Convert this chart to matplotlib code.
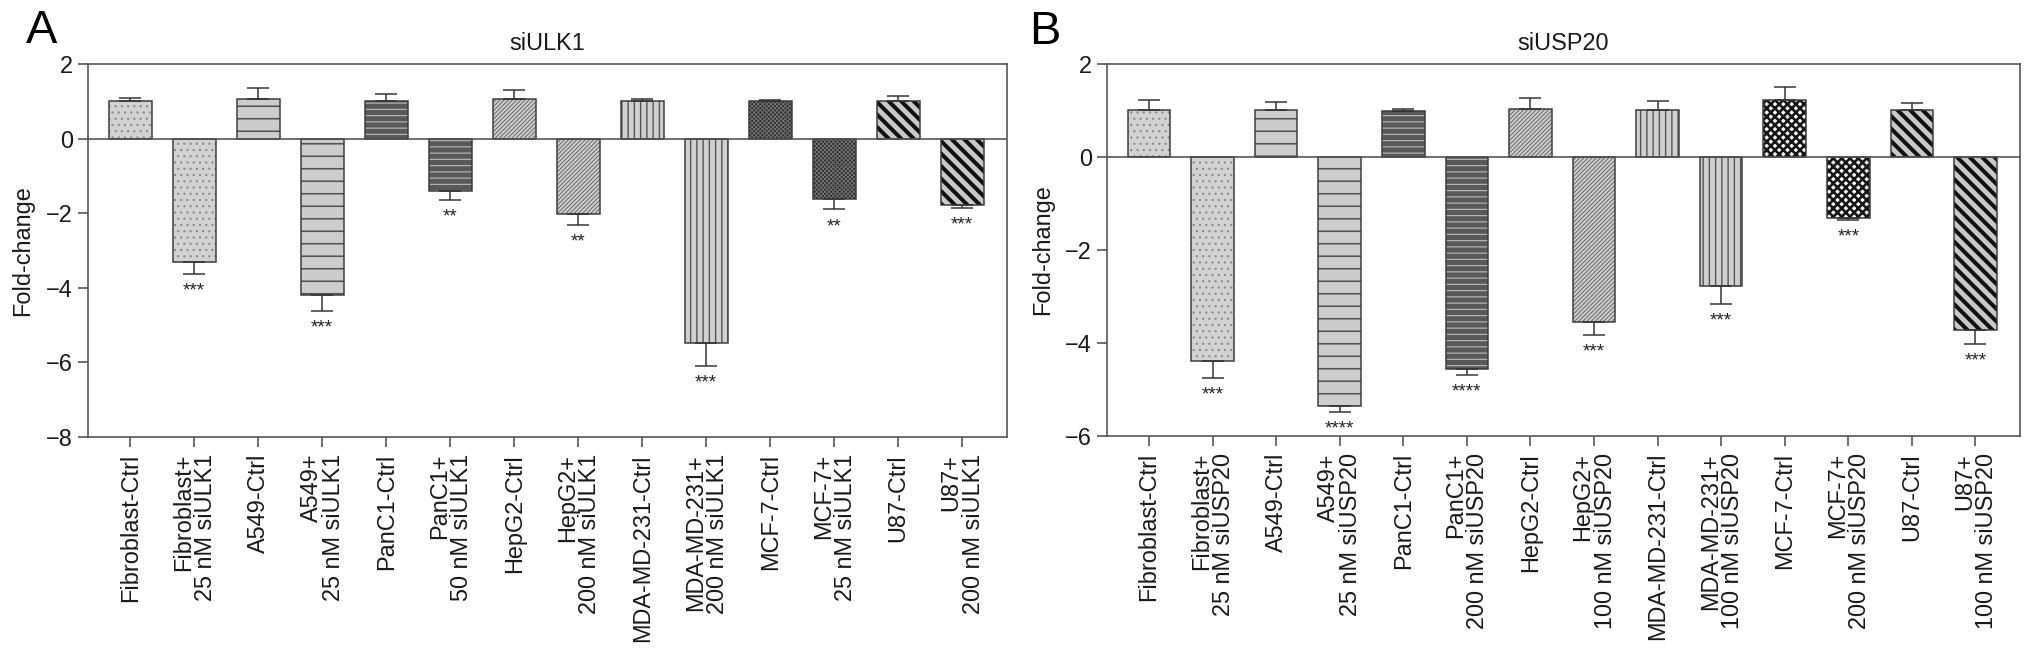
import numpy as np
import matplotlib
matplotlib.use('Agg')
import matplotlib.pyplot as plt

DPI = 75
W, H = 2032, 663


def px(v):
    # pixel size -> points at the chosen dpi
    return v * 72.0 / DPI


plt.rcParams['font.family'] = ['Liberation Sans', 'DejaVu Sans']

# data
ulk1_labels = ['Fibroblast-Ctrl', 'Fibroblast+\n25 nM siULK1', 'A549-Ctrl', 'A549+\n25 nM siULK1',
               'PanC1-Ctrl', 'PanC1+\n50 nM siULK1', 'HepG2-Ctrl', 'HepG2+\n200 nM siULK1',
               'MDA-MD-231-Ctrl', 'MDA-MD-231+\n200 nM siULK1', 'MCF-7-Ctrl', 'MCF-7+\n25 nM siULK1',
               'U87-Ctrl', 'U87+\n200 nM siULK1']
ulk1_vals = [1.0, -3.31, 1.06, -4.2, 1.02, -1.4, 1.06, -2.03, 1.01, -5.47, 1.01, -1.63, 1.01, -1.78]
ulk1_err = [0.09, 0.32, 0.29, 0.42, 0.17, 0.25, 0.25, 0.28, 0.06, 0.62, 0.03, 0.27, 0.14, 0.07]
ulk1_stars = ['', '***', '', '***', '', '**', '', '**', '', '***', '', '**', '', '***']

usp20_labels = ['Fibroblast-Ctrl', 'Fibroblast+\n25 nM siUSP20', 'A549-Ctrl', 'A549+\n25 nM siUSP20',
                'PanC1-Ctrl', 'PanC1+\n200 nM siUSP20', 'HepG2-Ctrl', 'HepG2+\n100 nM siUSP20',
                'MDA-MD-231-Ctrl', 'MDA-MD-231+\n100 nM siUSP20', 'MCF-7-Ctrl', 'MCF-7+\n200 nM siUSP20',
                'U87-Ctrl', 'U87+\n100 nM siUSP20']
usp20_vals = [1.01, -4.38, 1.01, -5.35, 0.99, -4.55, 1.03, -3.54, 1.01, -2.78, 1.23, -1.31, 1.01, -3.73]
usp20_err = [0.22, 0.37, 0.18, 0.14, 0.05, 0.13, 0.23, 0.29, 0.20, 0.38, 0.27, 0.05, 0.15, 0.30]
usp20_stars = ['', '***', '', '****', '', '****', '', '***', '', '***', '', '***', '', '***']

# fill style per cell line: (face, hatch, hatch colour, hatch width px)
style_a = [('#d2d2d2', '..', '#8a8a8a', 1.0),
           ('#cdcdcd', '-', '#555555', 1.6),
           ('#595959', '--', '#b5b5b5', 1.2),
           ('#cfcfcf', '//////', '#6a6a6a', 1.0),
           ('#d0d0d0', '||', '#555555', 1.4),
           ('#2a2a2a', 'xxxxxx', '#707070', 1.0),
           ('#c8c8c8', '\\\\', '#111111', 4.0)]
style_b = list(style_a)
style_b[5] = ('#ffffff', 'xxx', '#151515', 2.6)

LINE = '#505050'
BAR_EDGE = '#3a3a3a'

fig = plt.figure(figsize=(W / DPI, H / DPI), dpi=DPI)


def draw_panel(rect, labels, vals, errs, stars, styles, ymin, title, letter, letter_xy, ylab_x):
    ax = fig.add_axes(rect)
    x = np.arange(len(vals))
    for i, v in enumerate(vals):
        face, hatch, hcol, hlw = styles[i // 2]
        with plt.rc_context({'hatch.linewidth': px(hlw)}):
            b = ax.bar(x[i], v, width=0.67, color=face, edgecolor=hcol, hatch=hatch,
                       linewidth=0, zorder=2)
        for p in b:
            if hasattr(p, 'set_hatch_linewidth'):
                p.set_hatch_linewidth(px(hlw))
        ax.bar(x[i], v, width=0.67, fill=False, edgecolor=BAR_EDGE, linewidth=px(1.5), zorder=3)

    vals = np.array(vals)
    errs = np.array(errs)
    lower = np.where(vals < 0, errs, 0)
    upper = np.where(vals >= 0, errs, 0)
    ax.errorbar(x, vals, yerr=[lower, upper], fmt='none', ecolor='#333333',
                elinewidth=px(1.5), capsize=px(11), capthick=px(1.5), zorder=4)

    for i, s in enumerate(stars):
        if s:
            ax.annotate(s, (x[i], vals[i] - errs[i]), xytext=(0, -px(17)),
                        textcoords='offset points', ha='center', va='center',
                        fontsize=px(19), color='#222222')

    ax.axhline(0, color=LINE, linewidth=px(1.6), zorder=3)
    ax.set_xlim(-0.66, 13.7)
    ax.set_ylim(ymin, 2)
    ax.set_yticks(np.arange(ymin, 3, 2))
    ax.set_xticks(x)
    ax.set_xticklabels(labels, rotation=90, ha='center', va='top', multialignment='right',
                       linespacing=0.95)
    for sp in ax.spines.values():
        sp.set_color(LINE)
        sp.set_linewidth(px(1.6))
    ax.tick_params(axis='both', direction='out', length=px(10), width=px(1.6), color=LINE,
                   labelsize=px(23.5), labelcolor='#1a1a1a')
    ax.tick_params(axis='x', pad=px(7))
    ax.tick_params(axis='y', pad=px(5))

    ax.set_ylabel('Fold-change', fontsize=px(23.5), color='#1a1a1a', va='center')
    ax.yaxis.set_label_coords(ylab_x, 0.5)
    ax.text(0.5, 1 + 21.0 / (rect[3] * H), title, transform=ax.transAxes, ha='center',
            va='center', fontsize=px(23.5), color='#1a1a1a')
    fig.text(letter_xy[0] / W, 1 - letter_xy[1] / H, letter, ha='center', va='center',
             fontsize=px(47), color='black')
    return ax


draw_panel([88 / W, 1 - 437 / H, (1007 - 88) / W, (437 - 64) / H],
           ulk1_labels, ulk1_vals, ulk1_err, ulk1_stars, style_a, -8, 'siULK1', 'A', (42, 31), -0.0707)
draw_panel([1107 / W, 1 - 436 / H, (2020 - 1107) / W, (436 - 64) / H],
           usp20_labels, usp20_vals, usp20_err, usp20_stars, style_b, -6, 'siUSP20', 'B', (1045, 32), -0.0701)

fig.savefig('out.png', dpi=DPI)
